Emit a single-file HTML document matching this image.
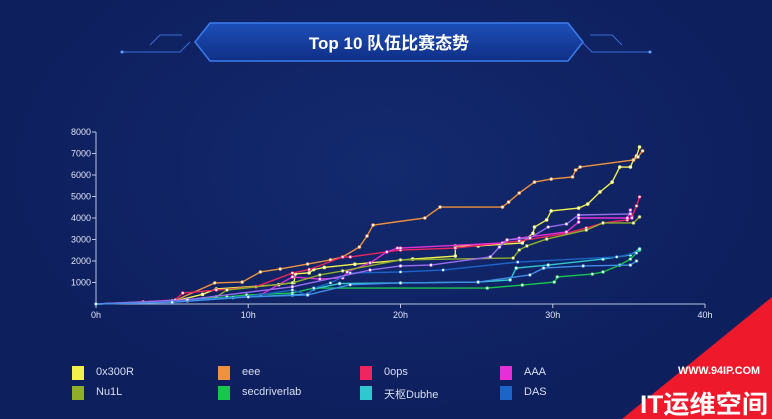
<!DOCTYPE html>
<html><head><meta charset="utf-8">
<style>
html,body{margin:0;padding:0;width:772px;height:419px;overflow:hidden;background:#0e1f5e;font-family:"Liberation Sans","Noto Sans CJK SC",sans-serif;}
#root{position:relative;width:772px;height:419px;background:radial-gradient(ellipse at 50% 40%,#132a6e 0%,#0e1f5e 70%);}
.lg{position:absolute;font-size:11px;color:#d8def0;}
.sw{position:absolute;width:12px;height:14px;}
</style></head><body>
<div id="root">
<svg id="banner" width="772" height="80" style="position:absolute;left:0;top:0">
 <defs><linearGradient id="bg1" x1="0" x2="0" y1="0" y2="1"><stop offset="0" stop-color="#1d4fb8"/><stop offset="1" stop-color="#0f2f86"/></linearGradient></defs>
 <polygon points="210,23 568,23 583,42 568,61 210,61 195,42" fill="url(#bg1)" stroke="#3c7cf0" stroke-width="1.5"/>
 <polyline points="122,52 180,52 190,42" fill="none" stroke="#3a6ed8" stroke-width="1"/>
 <polyline points="150,45 160,35 182,35" fill="none" stroke="#3a6ed8" stroke-width="1"/>
 <polyline points="650,52 592,52 582,42" fill="none" stroke="#3a6ed8" stroke-width="1"/>
 <polyline points="622,45 612,35 590,35" fill="none" stroke="#3a6ed8" stroke-width="1"/>
 <circle cx="122" cy="52" r="1.5" fill="#6aa0ff"/><circle cx="650" cy="52" r="1.5" fill="#6aa0ff"/>
 <text x="389" y="49" text-anchor="middle" fill="#fff" font-size="17" font-weight="bold" font-family="Liberation Sans,Noto Sans CJK SC,sans-serif">Top 10 队伍比赛态势</text>
</svg>
<svg id="chart" width="772" height="340" style="position:absolute;left:0;top:0"></svg>
<div id="legend"></div>
<svg width="772" height="419" style="position:absolute;left:0;top:0">
 <polygon points="622,419 772,297 772,419" fill="#ee1a2c"/>
 <text x="678" y="374" fill="#fff" font-size="11" font-weight="bold" textLength="82" lengthAdjust="spacingAndGlyphs">WWW.94IP.COM</text>
 <text x="640" y="413" fill="#fff" font-size="25" font-weight="bold" textLength="128" lengthAdjust="spacingAndGlyphs" font-family="Liberation Sans,Noto Sans CJK SC,sans-serif">IT运维空间</text>
</svg>
</div>
<script>
const names=["0x300R","eee","0ops","AAA","Nu1L","secdriverlab","天枢Dubhe","DAS","r3kapig","Lilac"];
const colors=["#f2f24a","#f0913e","#f0245e","#e72fd6","#8fae2a","#17c74d","#30c8d0","#1b64c8","#9a6cf0","#3f8fe8"];
const xTicks=[0,10,20,30,40];
const yTicks=[1000,2000,3000,4000,5000,6000,7000,8000];
const s0x300R=[[0,0],[5,100],[7,450],[7.9,700],[12,900],[13,1000],[13.1,1400],[14,1450],[14.3,1600],[15,1700],[17,1850],[20.8,2090],[23.6,2230],[23.6,2700],[25.1,2700],[28,2840],[28.3,3060],[28.7,3290],[28.8,3580],[29.6,3910],[29.9,4330],[31.7,4460],[32.3,4650],[33.1,5210],[33.9,5670],[34.4,6370],[35.1,6370],[35.3,6700],[35.5,6880],[35.7,7300]];
const sEee=[[0,0],[5,100],[7.8,980],[9.6,1020],[10.8,1490],[12.1,1630],[13.9,1860],[15.4,2050],[16.2,2190],[17.3,2650],[17.8,3160],[18.2,3670],[21.6,4000],[22.6,4510],[26.7,4510],[27.1,4740],[27.8,5160],[28.8,5670],[29.9,5810],[31.3,5910],[31.5,6230],[31.8,6370],[35.3,6700],[35.6,6840],[35.9,7120]];
const s0ops=[[0,0],[3.1,100],[5.2,190],[5.7,510],[7.9,650],[10.5,800],[12.9,1440],[14,1600],[16.2,2190],[16.7,2190],[20,2510],[23.6,2600],[27.8,2930],[30.9,3290],[32.2,3530],[33.3,3770],[34.9,3910],[35.2,4050],[35.5,4560],[35.7,4980]];
const sAAA=[[0,0],[6,150],[10.8,420],[12.9,1260],[14.7,1160],[16.2,1210],[16.5,1490],[18,1910],[19.1,2420],[19.8,2600],[20,2600],[26.7,2840],[27,2980],[27.8,3060],[30.9,3350],[31.7,3810],[31.7,4000],[34.9,4000],[35.1,4370],[35.2,4000]];
const sNu1L=[[0,0],[6,150],[7.9,330],[8.6,650],[12.9,980],[14.7,1350],[16.2,1540],[20,2050],[27.4,2140],[27.8,2510],[28.3,2700],[29.6,3020],[32.2,3440],[33.3,3770],[35.3,3770],[35.7,4050]];
const sSec=[[0,0],[5,100],[8.6,330],[9.9,420],[12.9,510],[14.3,740],[25.7,740],[28,880],[30.1,1020],[30.3,1260],[32.6,1390],[33.3,1490],[34.4,1810],[35.1,2090],[35.7,2510]];
const sDubhe=[[0,0],[5,150],[9,300],[12.9,420],[13.9,450],[14.3,700],[16,950],[20,980],[25.1,1020],[27.2,1120],[27.6,1670],[29.7,1810],[33.3,2090],[35.1,2280],[35.7,2560]];
const sDAS=[[0,0],[5,100],[10,350],[12.9,650],[13.9,420],[14.3,740],[15.4,980],[16.7,1440],[20,1490],[22.8,1580],[27.7,1950],[34.2,2190],[35.5,2370]];
const sR3=[[0,0],[6,200],[12.9,800],[18,1580],[20,1770],[22,1810],[25.9,2190],[26.5,2650],[27,2980],[28.5,3070],[29.7,3580],[30.9,3720],[31.7,4140],[35.1,4190]];
const sLilac=[[0,0],[5,80],[10,330],[13.9,420],[16.7,900],[20,980],[25.1,1020],[28.5,1350],[29.4,1670],[32,1770],[35.1,1810],[35.5,2000]];
const series=[s0x300R,sEee,s0ops,sAAA,sNu1L,sSec,sDubhe,sDAS,sR3,sLilac];
const X0=96,X1=705,Y0=304,Y1=132;
function xs(t){return X0+(t/40)*(X1-X0);}
function ys(v){return Y0-(v/8000)*(Y0-Y1);}
const NS="http://www.w3.org/2000/svg";
const svg=document.getElementById('chart');
function mk(tag,attrs){const e=document.createElementNS(NS,tag);for(const k in attrs)e.setAttribute(k,attrs[k]);svg.appendChild(e);return e;}
let ax=mk('line',{x1:X0,y1:Y0,x2:X1,y2:Y0,stroke:'#b8c4e0','stroke-width':1});


let ay=mk('line',{x1:X0,y1:Y0,x2:X0,y2:Y1,stroke:'#b8c4e0','stroke-width':1});


xTicks.forEach(t=>{
 mk('line',{x1:xs(t),y1:Y0,x2:xs(t),y2:Y0+4,stroke:'#b8c4e0'});
 const tx=mk('text',{x:xs(t),y:Y0+14,'text-anchor':'middle',fill:'#dfe5f5','font-size':9});
 tx.textContent=t+'h';
 
 
});
yTicks.forEach(v=>{
 mk('line',{x1:X0-4,y1:ys(v),x2:X0,y2:ys(v),stroke:'#b8c4e0'});
 const tx=mk('text',{x:X0-5,y:ys(v)+3,'text-anchor':'end',fill:'#dfe5f5','font-size':9});
 tx.textContent=v;
 
 
});
series.forEach((s,i)=>{
 const p=mk('polyline',{points:s.map(d=>xs(d[0])+','+ys(d[1])).join(' '),fill:'none',stroke:colors[i],'stroke-width':1.4});
 
 
 s.forEach(d=>{
  const c=mk('circle',{cx:xs(d[0]),cy:ys(d[1]),r:1.5,fill:'#fff',stroke:colors[i],'stroke-width':0.6});
  
  
 });
});
const lg=document.getElementById('legend');
const lx=[72,218,360,500];
for(let i=0;i<8;i++){
 const x=lx[i%4],y=i<4?366:386;
 const sw=document.createElement('div');sw.className='sw';sw.style.left=x+'px';sw.style.top=y+'px';sw.style.background=colors[i];
 
 
 lg.appendChild(sw);
 const t=document.createElement('div');t.className='lg';t.style.left=(x+24)+'px';t.style.top=(y)+'px';t.textContent=names[i];
 
 
 lg.appendChild(t);
}
</script>
</body></html>
